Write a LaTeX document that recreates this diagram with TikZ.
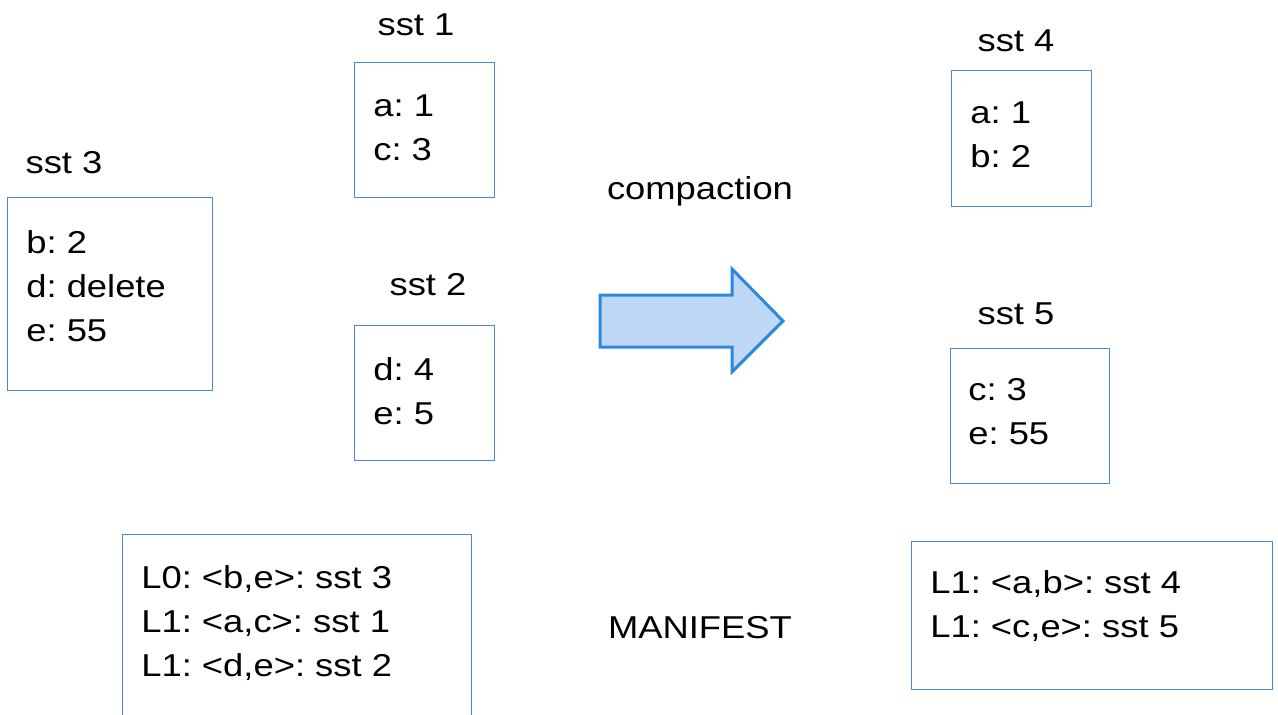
\documentclass[tikz,border=0pt]{standalone}
\usepackage{fontspec}
\setmainfont{Liberation Sans}[FakeStretch=1.15]
\usetikzlibrary{positioning}
\frenchspacing

\definecolor{boxblue}{RGB}{74,134,232}
\definecolor{arrowline}{RGB}{42,137,222}
\definecolor{arrowfill}{RGB}{189,215,245}

\begin{document}
\begin{tikzpicture}[x=0.02cm,y=-0.02cm,
  every node/.style={font=\fontsize{18}{25}\selectfont,inner sep=0pt},
  sstbox/.style={draw=boxblue,line width=0.8pt,anchor=north west},
  entries/.style={align=left,anchor=north west},
  caption/.style={anchor=base}]
\useasboundingbox (0,0) rectangle (1278,714);

% tables before compaction
\node[caption] (cap1) at (416,35) {sst 1};
\node[sstbox,minimum width=2.8cm,minimum height=2.7cm] (sst1) at (354,62) {};
\node[entries] (kv1) at (373,94) {a: 1\\c: 3};

\node[caption] (cap2) at (428,295) {sst 2};
\node[sstbox,minimum width=2.8cm,minimum height=2.7cm] (sst2) at (354,325) {};
\node[entries] (kv2) at (373,357) {d: 4\\e: 5};

\node[caption] (cap3) at (64,173) {sst 3};
\node[sstbox,minimum width=4.1cm,minimum height=3.86cm] (sst3) at (7,197) {};
\node[entries] (kv3) at (26,230) {b: 2\\d: delete\\e: 55};

% the compaction step
\node[caption] (compact) at (700,199) {compaction};
\draw[arrowline,fill=arrowfill,line width=1.7pt,line join=miter]
  (600,295) -- (732,295) -- (732,269) -- (783,321) -- (732,372) -- (732,347) -- (600,347) -- cycle;

% tables after compaction
\node[caption] (cap4) at (1016,51) {sst 4};
\node[sstbox,minimum width=2.8cm,minimum height=2.72cm] (sst4) at (951,70) {};
\node[entries] (kv4) at (970,101) {a: 1\\b: 2};

\node[caption] (cap5) at (1016,324) {sst 5};
\node[sstbox,minimum width=3.18cm,minimum height=2.7cm] (sst5) at (950,348) {};
\node[entries] (kv5) at (968,378) {c: 3\\e: 55};

% manifests
\node[sstbox,minimum width=6.98cm,minimum height=3.64cm] (oldman) at (122,534) {};
\node[entries] (oldlist) at (141,565) {L0: <b,e>: sst 3\\L1: <a,c>: sst 1\\L1: <d,e>: sst 2};

\node[caption] (manifest) at (700,638) {MANIFEST};

\node[sstbox,minimum width=7.22cm,minimum height=2.96cm] (newman) at (911,541) {};
\node[entries] (newlist) at (930,570) {L1: <a,b>: sst 4\\L1: <c,e>: sst 5};
\end{tikzpicture}
\end{document}
